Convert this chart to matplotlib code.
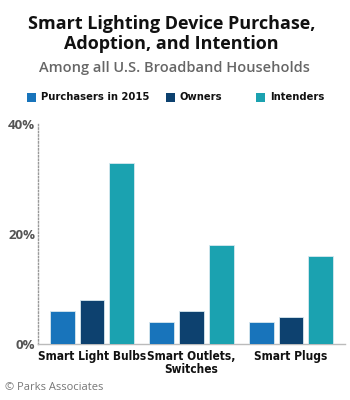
import matplotlib
matplotlib.use("Agg")
import matplotlib.pyplot as plt
import numpy as np
from matplotlib.patches import Rectangle

categories = ["Smart Light Bulbs", "Smart Outlets,\nSwitches", "Smart Plugs"]
series_names = ["Purchasers in 2015", "Owners", "Intenders"]
purchasers = [6, 4, 4]
owners = [8, 6, 5]
intenders = [33, 18, 16]
yticks = [0, 20, 40]
ytick_labels = ["0%", "20%", "40%"]
colors = ["#1874bb", "#0d416f", "#1ba2b0"]

NARROW = ["DejaVu Sans"]
TITLE = ["Open Sans", "DejaVu Sans"]

fig = plt.figure(figsize=(3.5, 4.0), dpi=100)
ax = fig.add_axes([0.1086, 0.14, 0.877, 0.55])

x = np.arange(len(categories))
offsets = [-0.3, 0.0, 0.3]
for vals, off, col in zip([purchasers, owners, intenders], offsets, colors):
    ax.bar(x + off, vals, width=0.25, color=col, edgecolor="#d8e8ef", linewidth=0.6, zorder=3)

ax.set_xlim(-0.543, 2.543)
ax.set_ylim(0, 40)
ax.set_yticks(yticks)
ax.set_yticklabels(ytick_labels, fontfamily=TITLE, fontweight="bold", fontsize=9.5, color="#555555")
ax.set_xticks(x)
ax.set_xticklabels(categories, fontfamily=NARROW, fontstretch="condensed", fontweight="bold",
                   fontsize=8.6, color="#111111", linespacing=1.05)
ax.tick_params(axis="both", length=0, pad=2)
ax.tick_params(axis="x", pad=4)
for s in ["top", "right"]:
    ax.spines[s].set_visible(False)
ax.spines["left"].set_linestyle((0, (1, 1.5)))
ax.spines["left"].set_color("#999999")
ax.spines["left"].set_linewidth(1.0)
ax.spines["bottom"].set_color("#bbbbbb")
ax.spines["bottom"].set_linewidth(1.0)

# Titles
fig.text(0.49, 0.915, "Smart Lighting Device Purchase,\nAdoption, and Intention", ha="center", va="center",
         fontfamily=TITLE, fontweight="bold", fontsize=13, color="#111111", linespacing=1.15)
fig.text(0.497, 0.83, "Among all U.S. Broadband Households", ha="center", va="center",
         fontfamily=TITLE, fontweight="semibold", fontsize=10.5, color="#666666")

# Legend
leg_x = [0.077, 0.474, 0.731]
for lx, name, col in zip(leg_x, series_names, colors):
    fig.patches.append(Rectangle((lx, 0.746), 0.026, 0.0225, transform=fig.transFigure,
                                 facecolor=col, edgecolor="none"))
    fig.text(lx + 0.04, 0.757, name, ha="left", va="center", fontfamily=NARROW, fontstretch="condensed",
             fontweight="bold", fontsize=8, color="#111111")

fig.text(0.014, 0.03, "© Parks Associates", ha="left", va="center", fontfamily=TITLE,
         fontsize=8, color="#777777")

fig.savefig("out.png", dpi=100)
